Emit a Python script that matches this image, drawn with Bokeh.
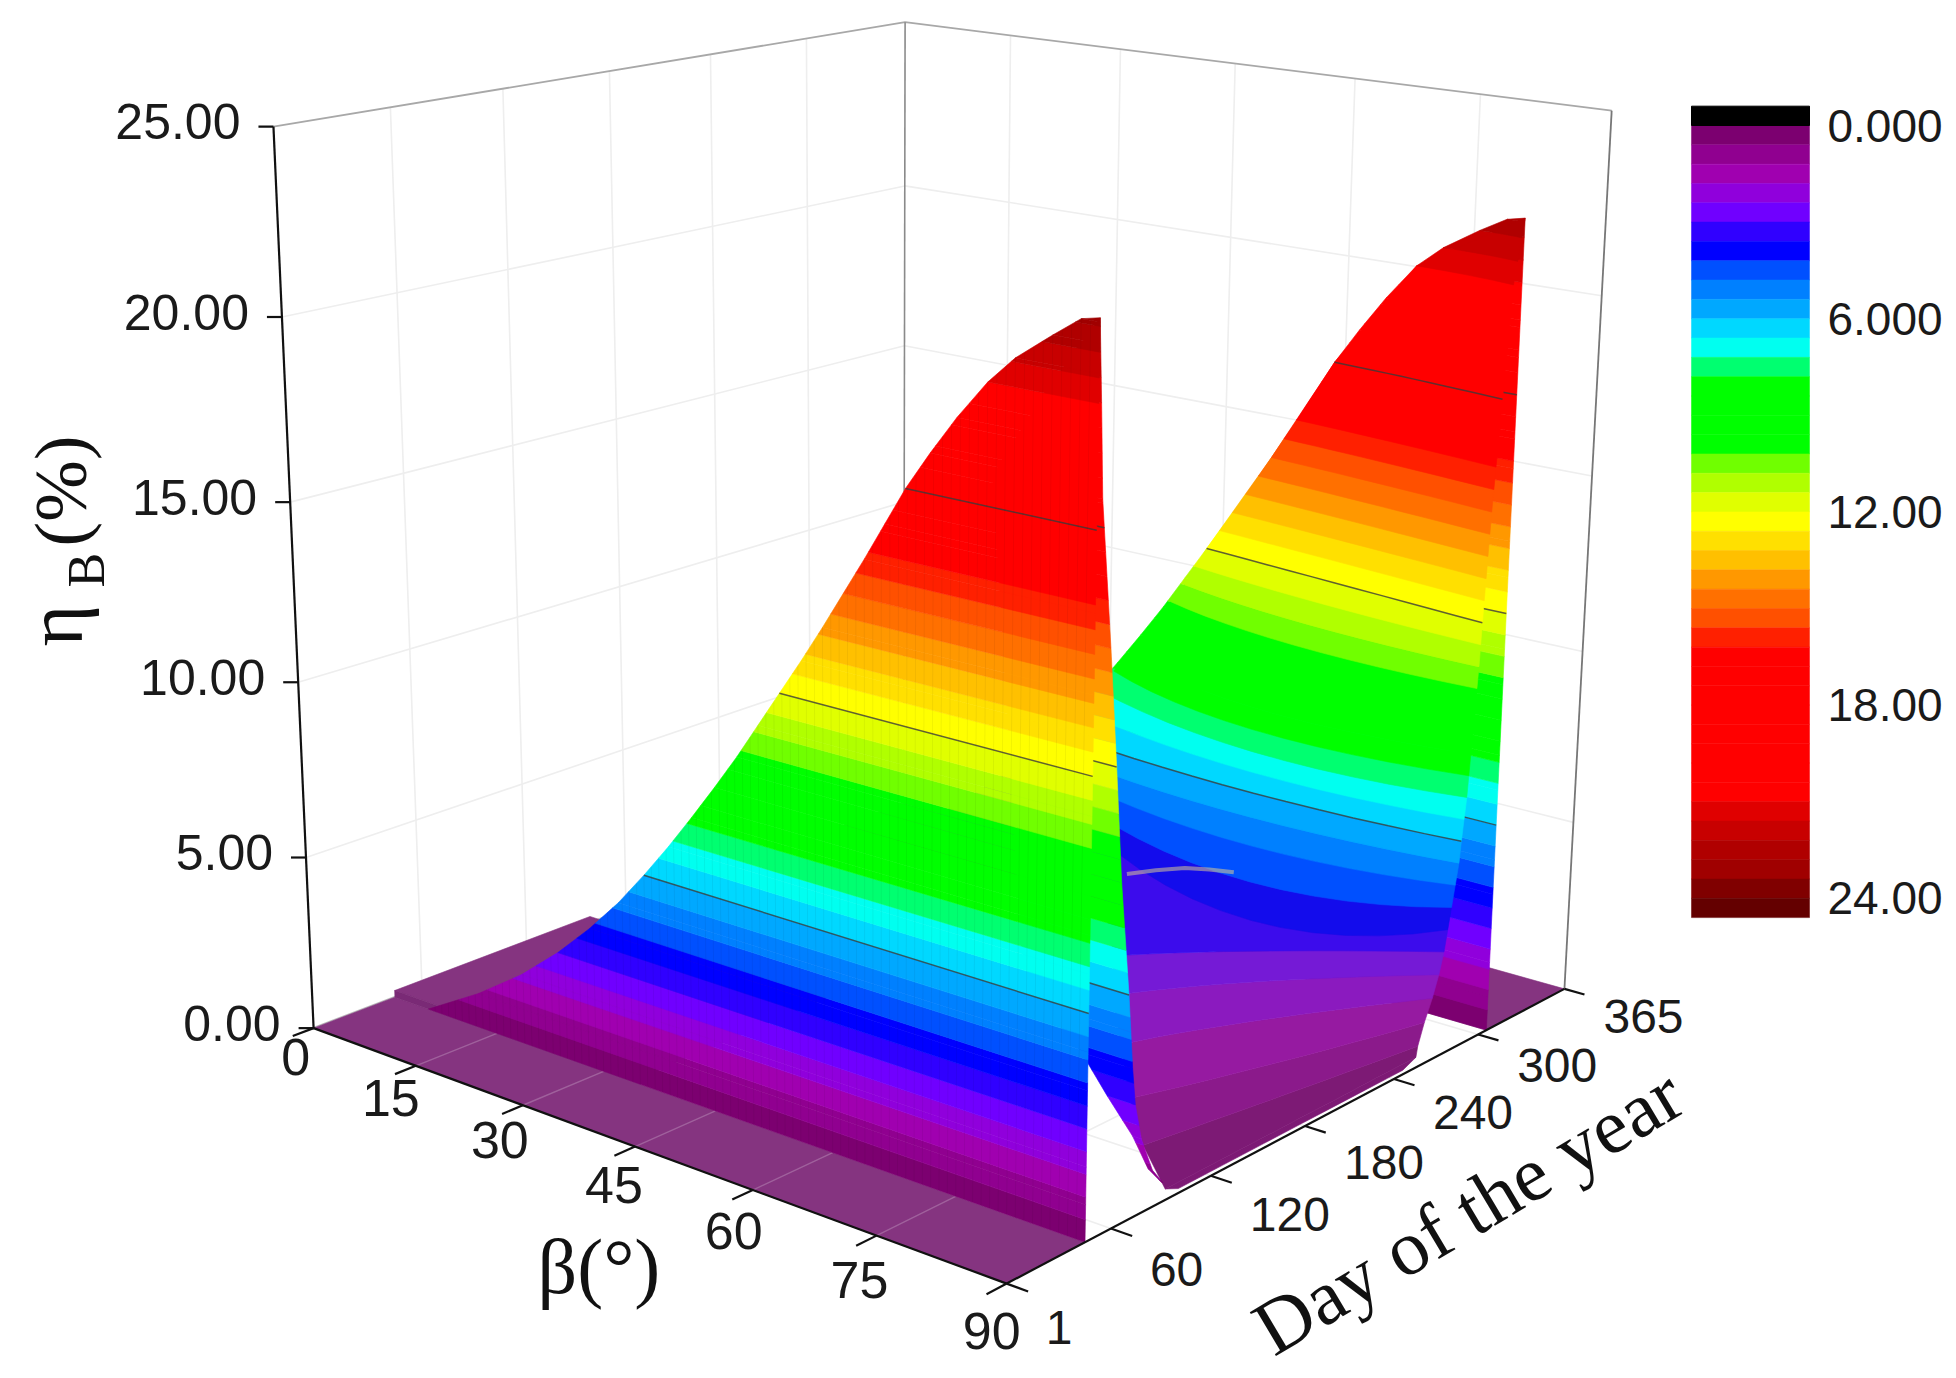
import numpy as np
from bokeh.plotting import figure, ColumnDataSource
from bokeh.models import Range1d
from bokeh.core.properties import value
from bokeh.embed import file_html
from bokeh.resources import INLINE

# ---------- data ----------
Z_TICKS = [0, 5, 10, 15, 20, 25]
Z_LABELS = ["0.00", "5.00", "10.00", "15.00", "20.00", "25.00"]
BETA_TICKS = [0, 15, 30, 45, 60, 75, 90]
DAY_TICKS = [1, 60, 120, 180, 240, 300, 365]
BAR_TICKS = [0, 6, 12, 18, 24]
BAR_LABELS = ["0.000", "6.000", "12.00", "18.00", "24.00"]
BAND = 0.6
BAND_COLORS = ["#7c0070", "#900090", "#a000b0", "#9000dc", "#7000ff", "#3000ff",
               "#0000ff", "#0050ff", "#0080ff", "#00a8ff", "#00d8ff", "#00fff0", "#00ff70",
               "#00ff00", "#00ff00", "#00ff00", "#00ff00", "#70ff00", "#b0ff00", "#e0ff00",
               "#ffff00", "#ffe000", "#ffc000", "#ff9800", "#ff7000", "#ff5000", "#ff2000",
               "#ff0000", "#ff0000", "#ff0000", "#ff0000", "#ff0000", "#ff0000", "#ff0000", "#ff0000",
               "#e00000", "#c80000", "#b00000", "#a00000", "#800000", "#640000"]
BAR_UNDER = "#000000"
FLOOR_COLOR = "#853480"

# crest of the two walls: height against the tilt where the crest reaches it
WALL1_Z = [0, 1, 2, 3, 4, 5, 6, 7, 8, 9, 10, 11, 12, 13, 14, 15, 16, 17, 18, 19, 20, 21, 21.7, 22.4, 22.9, 23.0]
WALL2_Z = [0, 1, 2, 3, 4, 5, 6, 7, 8, 9, 10, 11, 12, 13, 14, 15, 16, 17, 18, 19, 20, 21, 21.6, 22.2, 22.6, 22.7]
WALL_BETA = [5, 12.5, 18.8, 24, 28.5, 32.5, 36, 39.3, 42.4, 45.4, 48.3, 51, 53.7, 56.4, 59, 61.5, 64, 66.4, 68.8, 71.6, 74.6, 78, 81, 85, 88, 90]
WALL1_DAY = 45
WALL2_DAY = 306

# falling flank behind the first wall
STRIP_Z = [0.5, 1, 2, 3, 4, 5, 6, 9, 12, 15, 18.7, 21, 23.0]
STRIP_DAY = [90.6, 84, 77, 73, 71, 69.5, 68, 62.5, 58.4, 54, 48, 46.5, 45]
STRIP_BETA = [89.8, 89.5, 89, 86.8, 84.2, 80, 78, 78, 78, 78, 78, 84, 90]

# valley between the walls: where each height is met (left, middle, right of the visible part)
VALLEY_Z = [0.12, 0.3, 0.6, 1.2, 1.8, 2.4, 3.0, 3.6, 4.2, 4.8, 5.4, 6.0, 7.2, 8.4, 10.8, 12, 15, 18, 21, 22.7]
VALLEY_LEFT_BETA = [90, 90, 84, 79.5, 74, 69, 66, 46, 45, 44, 43, 42, 41, 44, 51, 53.7, 61.5, 68.8, 78, 90]
VALLEY_LEFT_DAY = [100, 92, 110, 125, 148, 168, 184, 273, 275, 278, 280, 283, 300, 306, 306, 306, 306, 306, 306, 306]
VALLEY_MID_BETA = [90, 90, 87, 85, 80, 77, 75.4, 73.7, 70.7, 68, 66.5, 66, 65.7, 65, 69, 71, 75, 79, 84.5, 90]
VALLEY_MID_DAY = [178, 180, 180, 190, 199, 214, 223, 232, 248, 263, 271, 275, 275, 278, 292, 298, 300, 302, 304, 306]
VALLEY_RIGHT_DAY = [246, 255, 256, 260, 265, 269, 272, 274, 276, 278, 280, 281, 283.5, 285, 288, 289, 292, 296, 300, 306]

# pale streak on the valley
STREAK_BETA = [56, 58, 60, 62, 64]
STREAK_DAY = [244, 253, 262, 268, 274]
STREAK_Z = [3.55, 3.62, 3.65, 3.62, 3.55]

CONTOURS = [6, 12, 18]

# ---------- camera calibration of the 3-D box (corners of the box on the page) ----------
BOX = [((0, 1, 0), (314, 1027)), ((0, 1, 25), (274, 125)), ((90, 1, 0), (1004, 1285)),
       ((90, 365, 0), (1565, 985)), ((90, 365, 25), (1612, 112)), ((0, 365, 25), (903, 21)),
       ((0, 365, 0), (903, 805))]


def fit_camera(box):
    rows = []
    for (b, d, z), (x, y) in box:
        X = [b / 90.0, (d - 1) / 364.0, z / 25.0, 1.0]
        x, y = x / 1000.0, y / 1000.0
        rows.append(X + [0, 0, 0, 0] + [-x * c for c in X])
        rows.append([0, 0, 0, 0] + X + [-y * c for c in X])
    return np.linalg.svd(np.array(rows))[2][-1].reshape(3, 4)


CAM = fit_camera(BOX)


def pr(b, d, z):
    v = CAM @ np.array([b / 90.0, (d - 1) / 364.0, z / 25.0, 1.0])
    return 1000.0 * v[0] / v[2], 1000.0 * v[1] / v[2]


def mix(col, other, f):
    c = [int(col[i:i + 2], 16) for i in (1, 3, 5)]
    return "#%02x%02x%02x" % tuple(int(round(c[i] * (1 - f) + other[i] * f)) for i in range(3))


p = figure(width=1948, height=1370, x_range=Range1d(0, 1948), y_range=Range1d(1370, 0),
           output_backend="svg", toolbar_location=None, min_border=0)
p.axis.visible = False
p.grid.visible = False
p.outline_line_color = None
p.background_fill_color = "white"


def lines(segs, color, width, alpha=1.0):
    xs, ys = [], []
    for s in segs:
        q = [pr(*c) for c in s]
        xs.append([a for a, _ in q])
        ys.append([a for _, a in q])
    p.multi_line(xs, ys, line_color=color, line_width=width, line_alpha=alpha)


def polys(polylist, colors):
    xs = [[pt[0] for pt in q] for q in polylist]
    ys = [[pt[1] for pt in q] for q in polylist]
    src = ColumnDataSource(dict(xs=xs, ys=ys, c=colors))
    p.patches("xs", "ys", source=src, fill_color="c", line_color="c", line_width=0.6)


def wash_for(z):
    if z < 3.0:
        return 0.32
    if z < 4.2:
        return 0.15
    return 0.0


def ribbon(zs, rows, wash=False):
    out, cols = [], []
    for i in range(len(zs) - 1):
        z0, z1 = zs[i], zs[i + 1]
        a, b = np.array(rows[i], float), np.array(rows[i + 1], float)
        k0 = int(np.floor(z0 / BAND))
        k1 = int(np.ceil(z1 / BAND))
        for k in range(k0, k1):
            za, zb = max(z0, k * BAND), min(z1, (k + 1) * BAND)
            if zb <= za:
                continue
            ta, tb = (za - z0) / (z1 - z0), (zb - z0) / (z1 - z0)
            lo = a + (b - a) * ta
            hi = a + (b - a) * tb
            q = [pr(c[0], c[1], za) for c in lo] + [pr(c[0], c[1], zb) for c in hi[::-1]]
            out.append(q)
            col = BAND_COLORS[min(k, len(BAND_COLORS) - 1)]
            if wash:
                col = mix(col, (128, 80, 128), wash_for(za))
            cols.append(col)
    polys(out, cols)


def level_row(zs, rows, level):
    # row of a ribbon at a contour height
    for i in range(len(zs) - 1):
        if zs[i] <= level <= zs[i + 1]:
            t = (level - zs[i]) / (zs[i + 1] - zs[i])
            a, b = np.array(rows[i], float), np.array(rows[i + 1], float)
            return [(c[0], c[1], level) for c in a + (b - a) * t]
    return None


def curve_row(lb, ld, mb, md, rd):
    # smooth path through the three read points of a valley row
    out = []
    for t in np.linspace(0, 1, 13):
        l0, l1, l2 = 2 * (t - 0.5) * (t - 1), 4 * t * (1 - t), 2 * t * (t - 0.5)
        out.append((l0 * lb + l1 * mb + l2 * 90, l0 * ld + l1 * md + l2 * rd))
    return out


# ---------- walls of the box ----------
GRID = "#eeeeee"
seg = []
for z in Z_TICKS[1:-1]:
    seg.append([(0, 1, z), (0, 365, z), (90, 365, z)])
for d in DAY_TICKS[1:-1]:
    seg.append([(0, d, 0), (0, d, 25)])
    seg.append([(0, d, 0), (90, d, 0)])
for b in BETA_TICKS[1:-1]:
    seg.append([(b, 365, 0), (b, 365, 25)])
    seg.append([(b, 1, 0), (b, 365, 0)])
lines(seg, GRID, 1.6)
lines([[(0, 1, 25), (0, 365, 25), (90, 365, 25)]], "#a8a8a8", 1.8)
lines([[(0, 365, 0), (0, 365, 25)]], "#8a8a8a", 1.6)
lines([[(90, 365, 0), (90, 365, 25)]], "#777777", 1.8)
lines([[(0, 1, 0), (0, 365, 0)]], "#bdbdbd", 2.5)

# ---------- floor ----------
fl = [[(0, 1, 0), (90, 1, 0), (90, WALL1_DAY, 0), (0, WALL1_DAY, 0)],
      [(0, WALL2_DAY, 0), (90, WALL2_DAY, 0), (90, 365, 0), (0, 365, 0)],
      [(0, WALL1_DAY, 0.2), (35, WALL1_DAY, 0.2), (35, 158, 0.2), (0, 158, 0.2)],
      [(0, WALL1_DAY, 0), (35, WALL1_DAY, 0), (35, WALL1_DAY, 0.2), (0, WALL1_DAY, 0.2)]]
polys([[pr(*c) for c in q] for q in fl], [FLOOR_COLOR, FLOOR_COLOR, FLOOR_COLOR, "#7a2a76"])
lines([[(b, 1, 0), (b, WALL1_DAY, 0)] for b in BETA_TICKS[1:-1]], "#ffffff", 1.4, 0.22)

# ---------- second wall, valley, flank, first wall (far to near) ----------
wall2_rows = [[(b, WALL2_DAY), (90, WALL2_DAY)] for b in WALL_BETA]
ribbon(WALL2_Z, wall2_rows)
lines([level_row(WALL2_Z, wall2_rows, c) for c in CONTOURS], "#3a3a3a", 1.5, 0.8)

valley_rows = [curve_row(*r) for r in
               zip(VALLEY_LEFT_BETA, VALLEY_LEFT_DAY, VALLEY_MID_BETA, VALLEY_MID_DAY, VALLEY_RIGHT_DAY)]
ribbon(VALLEY_Z, valley_rows, wash=True)
lines([level_row(VALLEY_Z, valley_rows, c) for c in CONTOURS], "#3a3a3a", 1.5, 0.8)
lines([list(zip(STREAK_BETA, STREAK_DAY, STREAK_Z))], "#d8c890", 4, 0.55)

strip_rows = [[(b, d), (90, d)] for b, d in zip(STRIP_BETA, STRIP_DAY)]
ribbon(STRIP_Z, strip_rows)
lines([level_row(STRIP_Z, strip_rows, c) for c in CONTOURS], "#3a3a3a", 1.5, 0.8)

wall1_rows = [[(b, WALL1_DAY), (90, WALL1_DAY)] for b in WALL_BETA]
ribbon(WALL1_Z, wall1_rows)
lines([level_row(WALL1_Z, wall1_rows, c) for c in CONTOURS], "#3a3a3a", 1.5, 0.8)

# fine mesh of the walls
mesh = []
for b in range(6, 90):
    top = float(np.interp(b, WALL_BETA, WALL1_Z))
    mesh.append([(b, WALL1_DAY, 0), (b, WALL1_DAY, top)])
lines(mesh, "#000000", 1.0, 0.05)

# ---------- axes ----------
lines([[(0, 1, 0), (0, 1, 25)]], "#111111", 2.2)
lines([[(0, 1, 0), (90, 1, 0)]], "#111111", 2.2)
lines([[(90, 1, 0), (90, 365, 0)]], "#111111", 2.2)


def txt(xs, ys, labels, font, size, align="center", base="middle", angle=0.0, color="#1a1a1a"):
    p.text(xs, ys, text=labels, text_font=value(font), text_font_size=size, text_align=align,
           text_baseline=base, angle=angle, text_color=color)


def tick_segments(points):
    xs, ys = [], []
    for (x, y), (u, v) in points:
        xs.append([x, u])
        ys.append([y, v])
    p.multi_line(xs, ys, line_color="#111111", line_width=2.2)


tick_segments([(pr(0, 1, z), (pr(0, 1, z)[0] - 15, pr(0, 1, z)[1])) for z in Z_TICKS])
tick_segments([(pr(b, 1, 0), pr(b, -10, 0)) for b in BETA_TICKS])
tick_segments([(pr(90, d, 0), pr(92.4, d, 0)) for d in DAY_TICKS])

q = [pr(0, 1, z) for z in Z_TICKS]
txt([a - 33 for a, _ in q], [b - 5 for _, b in q], Z_LABELS, "Liberation Sans", "50px", align="right")
q = [pr(b, 1, 0) for b in BETA_TICKS]
txt([a - 27 + 12 * t / 90 + (9 if t == 0 else 0) for (a, _), t in zip(q, BETA_TICKS)],
    [y + 29 + 18 * t / 90 for (_, y), t in zip(q, BETA_TICKS)],
    [str(b) for b in BETA_TICKS], "Liberation Sans", "52px")
q = [pr(90, d, 0) for d in DAY_TICKS]
txt([a + 39 for a, _ in q],
    [y + 44 - 16 * (d - 1) / 364 for (_, y), d in zip(q, DAY_TICKS)],
    [str(d) for d in DAY_TICKS], "Liberation Sans", "48px", align="left")

# ---------- axis titles ----------
txt([54], [646], ["\u03b7"], "Liberation Serif", "80px", align="left", base="alphabetic", angle=np.pi / 2, color="#111111")
txt([86], [587], ["B"], "Liberation Serif", "52px", align="left", base="alphabetic", angle=np.pi / 2, color="#111111")
txt([60], [546], ["(%)"], "Liberation Serif", "74px", align="left", base="alphabetic", angle=np.pi / 2, color="#111111")
txt([537], [1266], ["\u03b2(\u00b0)"], "Liberation Serif", "78px", align="left", base="alphabetic", color="#111111")
txt([1260], [1334], ["Day of the year"], "Liberation Serif", "78px", align="left", base="alphabetic",
    angle=np.radians(30.8), color="#111111")

# ---------- colour scale ----------
BAR_LEFT, BAR_RIGHT, BAR_ZERO, BAR_PX = 1691, 1809, 125, 32.2
tops = [BAR_ZERO + BAND * k * BAR_PX for k in range(len(BAND_COLORS))]
bottoms = [BAR_ZERO + BAND * (k + 1) * BAR_PX for k in range(len(BAND_COLORS))]
p.quad(left=BAR_LEFT, right=BAR_RIGHT, top=tops, bottom=bottoms, fill_color=BAND_COLORS, line_color=BAND_COLORS, line_width=0.5)
p.quad(left=BAR_LEFT, right=BAR_RIGHT, top=BAR_ZERO - BAND * BAR_PX, bottom=BAR_ZERO, fill_color=BAR_UNDER, line_color=BAR_UNDER)
txt([1827] * len(BAR_TICKS), [BAR_ZERO + t * BAR_PX for t in BAR_TICKS], BAR_LABELS, "Liberation Sans", "46px", align="left")

open("out.html", "w").write(file_html(p, INLINE))
